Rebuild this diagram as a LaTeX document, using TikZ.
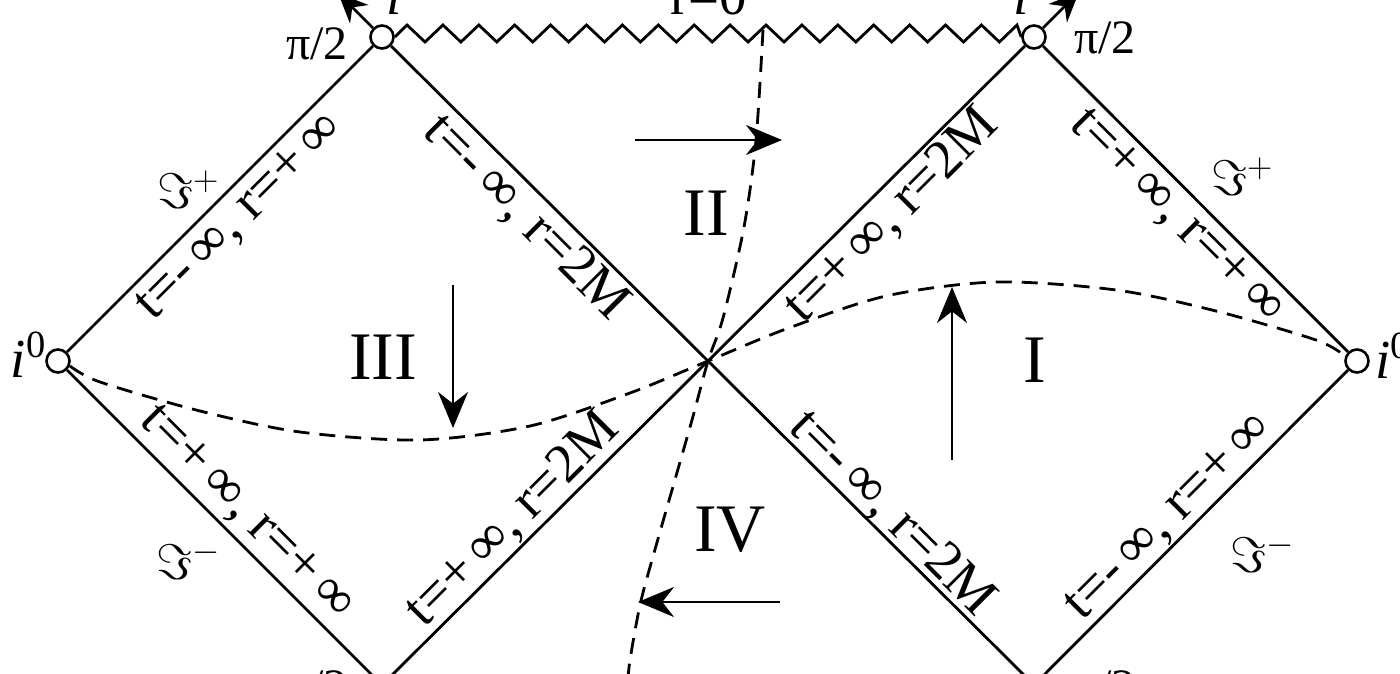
\RequirePackage{fix-cm}
\documentclass[tikz,border=0pt]{standalone}
\usepackage{fontspec}
\setmainfont{Liberation Serif}
\usetikzlibrary{arrows.meta}
\begin{document}
\begin{tikzpicture}[x=1pt,y=-1pt,
  edge/.style={line width=2.8pt},
  dashcurve/.style={line width=2.8pt, dash pattern=on 16pt off 10pt},
  bigarrow/.style={line width=2.8pt,-{Stealth[length=36pt,width=30pt]}},
  toparrow/.style={line width=2.8pt,-{Stealth[length=30pt,width=26pt]}},
  vtx/.style={circle, draw, fill=white, line width=2.6pt, minimum size=23pt, inner sep=0pt},
  lbl/.style={inner sep=0pt, font=\fontsize{55}{62}\selectfont},
  region/.style={inner sep=0pt, font=\fontsize{68}{74}\selectfont},
  small/.style={inner sep=0pt, font=\fontsize{48}{54}\selectfont},
  scri/.style={inner sep=0pt, font=\fontsize{50}{56}\selectfont},
]
\fill[white] (0,0) rectangle (1400,674);
\useasboundingbox (0,0) rectangle (1400,674);

% vertices
\node[vtx] (L) at (58,361) {};
\node[vtx] (T1) at (382,37) {};
\node[vtx] (T2) at (1034,37) {};
\node[vtx] (R) at (1357,361) {};
\coordinate (C) at (708,361);
\coordinate (B1) at (382,685);
\coordinate (B2) at (1034,685);

% edges
\draw[edge] (L) -- (T1);
\draw[edge] (T1) -- (C);
\draw[edge] (C) -- (T2);
\draw[edge] (T2) -- (R);
\draw[edge] (L) -- (B1);
\draw[edge] (B1) -- (C);
\draw[edge] (C) -- (B2);
\draw[edge] (B2) -- (R);

% singularity (zigzag)
\draw[edge, line join=miter] (T1.east) \foreach \k in {0,...,16} { -- ({407+35.9*\k},25) -- ({425+35.9*\k},42) } -- (1017,25) -- (T2.west);

% dashed curves
\draw[dashcurve] plot[smooth] coordinates {(70,366) (100,382) (200,411) (300,432) (420,440) (530,426) (630,393) (708,361) (786,329) (886,296) (996,282) (1116,290) (1216,311) (1316,340) (1345,356)};
\draw[dashcurve] plot[smooth] coordinates {(763,30) (756,140) (744,227) (723,318) (708,361) (692,420) (672,490) (652,560) (640,605) (630,660) (627,690)};

% top arrows
\coordinate (ia1) at (338,-7);
\coordinate (ia2) at (1079,-8);
\draw[toparrow] (T1) -- (ia1);
\draw[toparrow] (T2) -- (ia2);

% region arrows
\coordinate (a2s) at (635,140); \coordinate (a2e) at (782,140);
\coordinate (a3s) at (453,285); \coordinate (a3e) at (453,428);
\coordinate (a1s) at (952,460); \coordinate (a1e) at (952,287);
\coordinate (a4s) at (780,602); \coordinate (a4e) at (638,602);
\draw[bigarrow] (a2s) -- (a2e);
\draw[bigarrow] (a3s) -- (a3e);
\draw[bigarrow] (a1s) -- (a1e);
\draw[bigarrow] (a4s) -- (a4e);

% region labels
\node[region] (rII) at (706,213) {II};
\node[region] (rIII) at (383,357) {III};
\node[region] (rI) at (1035,360) {I};
\node[region] (rIV) at (730,530) {IV};

% edge labels
\node[lbl, rotate=45]  (e1) at (241,218) {t=-\,∞, r=+\,∞};
\node[lbl, rotate=-45] (e2) at (526,218) {t=-\,∞, r=2M};
\node[lbl, rotate=45]  (e3) at (892,216) {t=+\,∞, r=2M};
\node[lbl, rotate=-45] (e4) at (1176,218) {t=+\,∞, r=+\,∞};
\node[lbl, rotate=-45] (e5) at (246,514) {t=+\,∞, r=+\,∞};
\node[lbl, rotate=45]  (e6) at (513,520) {t=+\,∞, r=2M};
\node[lbl, rotate=-45] (e7) at (892,514) {t=-\,∞, r=2M};
\node[lbl, rotate=45]  (e8) at (1170,518) {t=-\,∞, r=+\,∞};

% scri labels
\node[scri] (s1) at (188,190) {$\Im^{+}$};
\node[scri] (s2) at (188,560) {$\Im^{-}$};
\node[scri] (s3) at (1242,177) {$\Im^{+}$};
\node[scri] (s4) at (1262,553) {$\Im^{-}$};

% point labels
\node[lbl, anchor=base east] (i0l) at (46,377) {\textit{i}\textsuperscript{0}};
\node[lbl, anchor=base west] (i0r) at (1375,378) {\textit{i}\textsuperscript{0}};
\node[small, anchor=base] (p1) at (317,60) {π/2};
\node[small, anchor=base] (p2) at (1105,54) {π/2};
\node[small, anchor=base] (p3) at (317,702) {π/2};
\node[small, anchor=base] (p4) at (1105,702) {π/2};
\node[lbl, anchor=base west] (ip1) at (386,15) {\textit{i}};
\node[lbl, anchor=base west] (ip2) at (1013,15) {\textit{i}};
\node[lbl, anchor=base] (r0) at (709,15) {r=0};
\end{tikzpicture}
\end{document}
